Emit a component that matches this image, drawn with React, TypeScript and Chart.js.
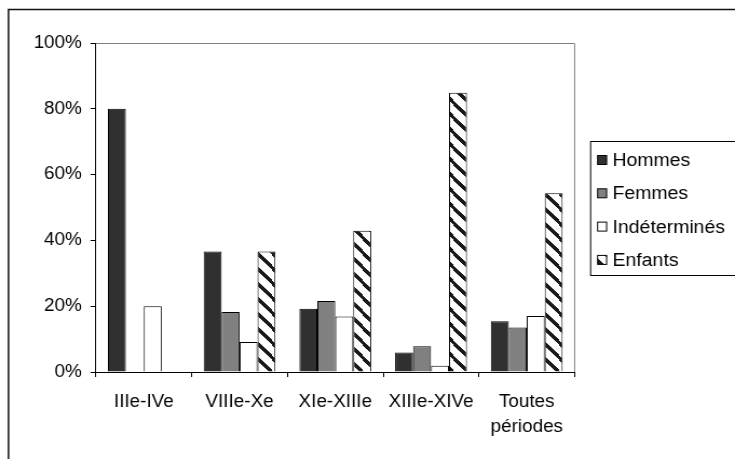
import { useEffect, useRef } from "react";
import { Chart, registerables } from "chart.js";

Chart.register(...registerables);

// ---- data ----
const categories: string[][] = [["IIIe-IVe"], ["VIIIe-Xe"], ["XIe-XIIIe"], ["XIIIe-XIVe"], ["Toutes", "périodes"]];
const seriesNames = ["Hommes", "Femmes", "Indéterminés", "Enfants"];
const hommes = [80, 36.6, 19.2, 5.9, 15.4];
const femmes = [0, 18.2, 21.6, 7.8, 13.5];
const indetermines = [20, 9.1, 16.9, 1.9, 17.0];
const enfants = [0, 36.6, 42.9, 84.9, 54.3];
const yTickValues = [0, 20, 40, 60, 80, 100];

// ---- layout (internal canvas is horizontally stretched to the page) ----
const W = 735;
const H = 459;
const SX = 1.08;
const IW = Math.round(W / SX);
const FONT = "'Liberation Sans', Arial, sans-serif";
const PLOT_LEFT = 96 / SX;
const PLOT_RIGHT = 575 / SX;
const PLOT_TOP = 43;
const PLOT_BOTTOM = 372;

function makeStripe(target: HTMLCanvasElement): CanvasPattern | string {
  const pw = 14;
  const ph = 15;
  const c = document.createElement("canvas");
  c.width = pw;
  c.height = ph;
  const g = c.getContext("2d");
  if (!g) return "#fff";
  const img = g.createImageData(pw, ph);
  for (let y = 0; y < ph; y++) {
    for (let x = 0; x < pw; x++) {
      const v = (((x * (ph / pw) - y) % ph) + ph) % ph;
      const on = v < 5;
      const i = (y * pw + x) * 4;
      const col = on ? 25 : 255;
      img.data[i] = col;
      img.data[i + 1] = col;
      img.data[i + 2] = col;
      img.data[i + 3] = 255;
    }
  }
  g.putImageData(img, 0, 0);
  const p = target.getContext("2d")!.createPattern(c, "repeat");
  return p || "#fff";
}

export default function App() {
  const ref = useRef<HTMLCanvasElement>(null);

  useEffect(() => {
    const canvas = ref.current!;
    canvas.width = IW;
    canvas.height = H;
    canvas.style.width = W + "px";
    canvas.style.height = H + "px";
    const stripe = makeStripe(canvas);
    const fills: (string | CanvasPattern)[] = ["#303030", "#808080", "#ffffff", stripe];
    const values = [hommes, femmes, indetermines, enfants];

    const framePlugin = {
      id: "frame",
      beforeDatasetsDraw(chart: any) {
        const ctx = chart.ctx;
        const a = chart.chartArea;
        ctx.save();
        ctx.strokeStyle = "#808080";
        ctx.lineWidth = 1;
        ctx.beginPath();
        ctx.moveTo(a.left, a.top + 0.5);
        ctx.lineTo(a.right, a.top + 0.5);
        ctx.lineTo(a.right, a.bottom);
        ctx.stroke();
        ctx.restore();
      },
      afterDraw(chart: any) {
        const ctx = chart.ctx;
        ctx.save();
        // outer frame
        ctx.strokeStyle = "#111";
        ctx.lineWidth = 1.5;
        ctx.strokeRect(8.5 / SX, 9.5, 2000, 2000);
        // legend
        const lx = 591 / SX;
        ctx.lineWidth = 1;
        ctx.strokeStyle = "#000";
        ctx.fillStyle = "#fff";
        ctx.fillRect(lx, 141.5, 300, 134);
        ctx.strokeRect(lx, 141.5, 300, 134);
        ctx.font = `18px ${FONT}`;
        ctx.textBaseline = "middle";
        ctx.textAlign = "left";
        seriesNames.forEach((name, i) => {
          const cy = 160 + i * 33.3;
          const sx = 598 / SX;
          const sw = 9 / SX;
          ctx.fillStyle = fills[i];
          ctx.fillRect(sx, cy - 4.5, sw, 9);
          ctx.strokeStyle = "#000";
          ctx.strokeRect(sx, cy - 4.5, sw, 9);
          ctx.fillStyle = "#000";
          ctx.fillText(name, 613 / SX, cy + 1);
        });
        ctx.restore();
      },
    };

    const chart = new Chart(canvas, {
      type: "bar",
      data: {
        labels: categories as any,
        datasets: seriesNames.map((name, i) => ({
          label: name,
          data: values[i],
          backgroundColor: fills[i] as any,
          borderColor: "#000",
          borderWidth: 1,
        })),
      },
      options: {
        responsive: false,
        animation: false,
        devicePixelRatio: 1,
        layout: { padding: { top: PLOT_TOP, right: IW - PLOT_RIGHT, left: 0, bottom: 0 } },
        plugins: { legend: { display: false }, tooltip: { enabled: false } },
        datasets: { bar: { categoryPercentage: 0.75, barPercentage: 1 } },
        scales: {
          x: {
            afterFit(scale: any) {
              scale.height = H - PLOT_BOTTOM;
            },
            grid: { drawOnChartArea: false, tickLength: 5, color: "#000", offset: true },
            border: { color: "#000", width: 1 },
            ticks: {
              color: "#000",
              font: { family: FONT, size: 17.5, lineHeight: 1.43 },
              padding: 13,
              maxRotation: 0,
              autoSkip: false,
            },
          },
          y: {
            min: 0,
            max: 100,
            afterFit(scale: any) {
              scale.width = PLOT_LEFT;
            },
            afterBuildTicks(scale: any) {
              scale.ticks = yTickValues.map((v) => ({ value: v }));
            },
            grid: { drawOnChartArea: false, tickLength: 5, color: "#000" },
            border: { color: "#000", width: 1 },
            ticks: {
              color: "#000",
              font: { family: FONT, size: 17.5 },
              padding: 8,
              callback: (v: any) => v + "%",
            },
          },
        },
      },
      plugins: [framePlugin],
    });
    return () => chart.destroy();
  }, []);

  return (
    <div style={{ position: "absolute", left: 0, top: 0, width: W, height: H, background: "#fff" }}>
      <canvas ref={ref} width={IW} height={H} style={{ width: W, height: H, display: "block" }} />
    </div>
  );
}
